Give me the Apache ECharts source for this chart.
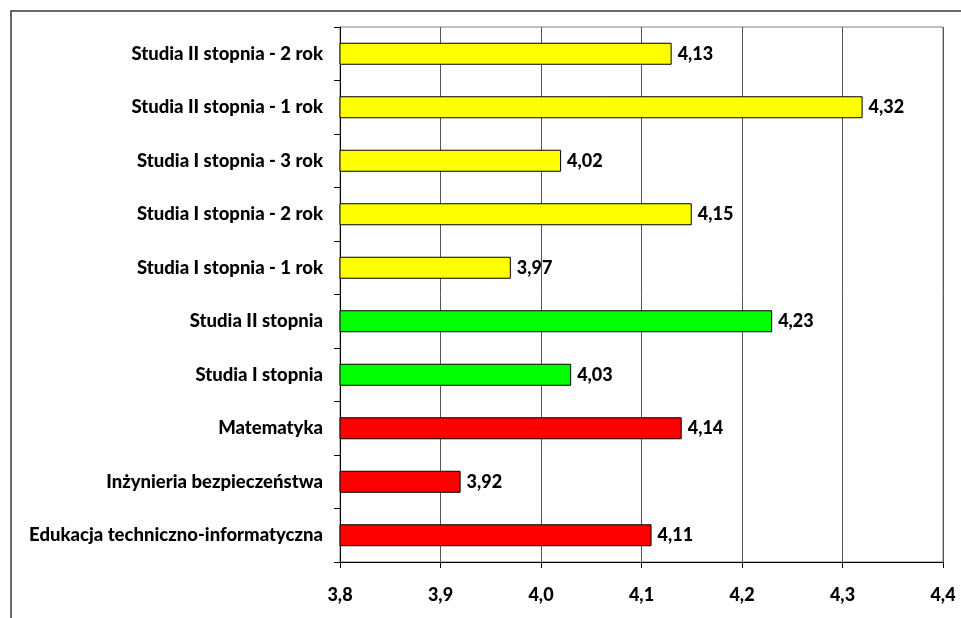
<!DOCTYPE html>
<html><head><meta charset="utf-8">
<script src="https://cdn.jsdelivr.net/npm/echarts@6/dist/echarts.min.js"></script>
<style>html,body{margin:0;padding:0;background:#fff}#c{width:961px;height:618px}</style>
</head><body><div id="c"></div>
<script>
const categories = [
  "Studia II stopnia - 2 rok",
  "Studia II stopnia - 1 rok",
  "Studia I stopnia - 3 rok",
  "Studia I stopnia - 2 rok",
  "Studia I stopnia - 1 rok",
  "Studia II stopnia",
  "Studia I stopnia",
  "Matematyka",
  "Inżynieria bezpieczeństwa",
  "Edukacja techniczno-informatyczna"
];
const values = [4.13, 4.32, 4.02, 4.15, 3.97, 4.23, 4.03, 4.14, 3.92, 4.11];
const groups = ["year","year","year","year","year","level","level","field","field","field"];
const groupColors = {year: "#FFFF00", level: "#00FF00", field: "#FF0000"};
const xTicks = [3.8, 3.9, 4.0, 4.1, 4.2, 4.3, 4.4];

const font = "Lato, 'Open Sans', sans-serif";
const chart = echarts.init(document.getElementById('c'));
chart.setOption({
  animation: false,
  graphic: [{
    type: 'rect', shape: {x: 11, y: 11, width: 1000, height: 1000},
    style: {fill: 'none', stroke: '#3a3a3a', lineWidth: 1.5}, z: -1
  }],
  grid: {left: 340, top: 27, right: 18, bottom: 56, show: true, borderColor: '#808080', borderWidth: 1, containLabel: false},
  xAxis: {
    type: 'value', min: 3.8, max: 4.4, interval: 0.1,
    axisLine: {show: true, lineStyle: {color: '#000', width: 1}},
    axisTick: {show: true, length: 6, lineStyle: {color: '#000'}},
    splitLine: {show: true, lineStyle: {color: '#555', width: 1}},
    axisLabel: {
      margin: 24, color: '#000', fontFamily: font, fontWeight: 900, fontSize: 18,
      formatter: v => { const t = xTicks.find(x => Math.abs(x - v) < 1e-6); return (t !== undefined ? t : v).toFixed(1).replace('.', ','); }
    }
  },
  yAxis: {
    type: 'category', data: categories, inverse: true,
    axisLine: {show: true, lineStyle: {color: '#000', width: 1}},
    axisTick: {show: true, length: 6, lineStyle: {color: '#000'}},
    axisLabel: {margin: 17, color: '#000', fontFamily: font, fontWeight: 900, fontSize: 18.5}
  },
  series: [{
    type: 'bar', barWidth: 22,
    data: values.map((v, i) => ({value: v, itemStyle: {color: groupColors[groups[i]]}})),
    itemStyle: {borderColor: '#000', borderWidth: 1},
    label: {
      show: true, position: 'right', distance: 6, color: '#000',
      fontFamily: font, fontWeight: 900, fontSize: 18,
      formatter: p => p.value.toFixed(2).replace('.', ',')
    }
  }]
});
</script></body></html>
